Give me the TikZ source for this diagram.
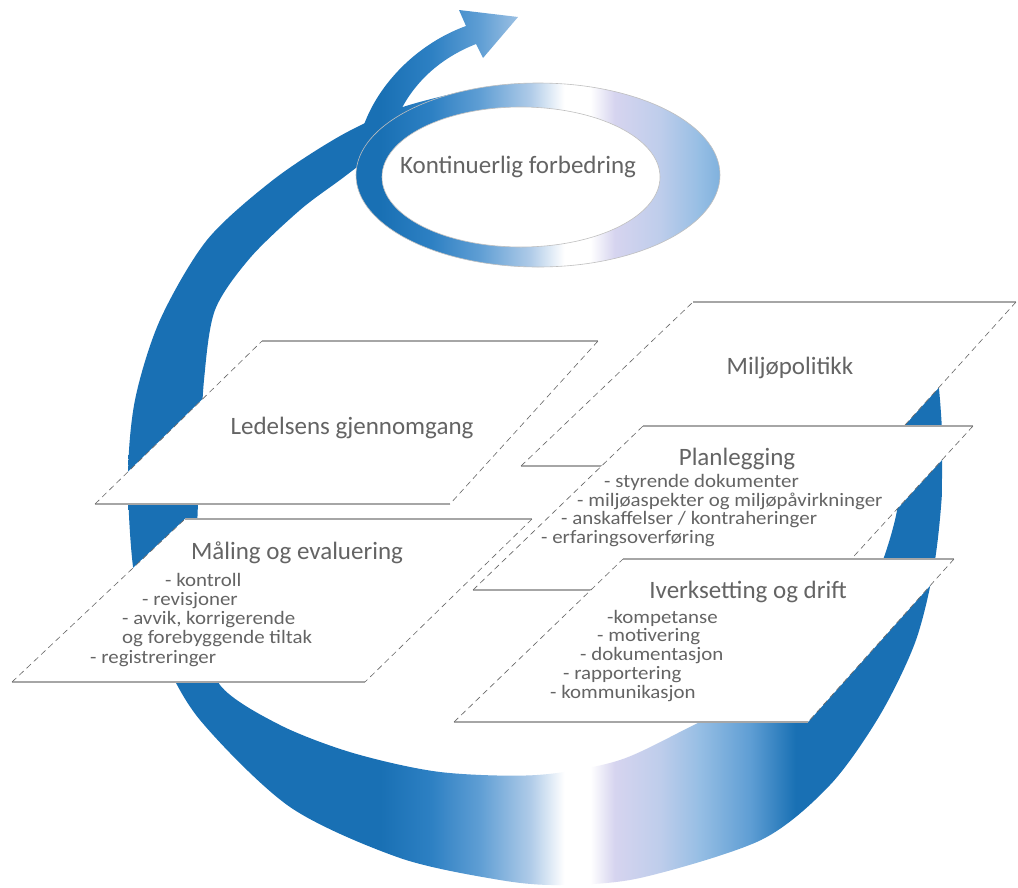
\documentclass[tikz,border=0pt]{standalone}
\usepackage{fontspec}
\setmainfont{Carlito}
\newfontfamily\itemfont{Carlito}[FakeStretch=1.1]

\definecolor{swirlblue}{RGB}{25,112,180}
\definecolor{swirlmid}{RGB}{45,128,195}
\definecolor{swirllight}{RGB}{95,158,212}
\definecolor{swirlpale}{RGB}{175,203,232}
\definecolor{swirllav}{RGB}{214,212,239}
\definecolor{swirlice}{RGB}{190,205,235}
\definecolor{swirlsky}{RGB}{150,190,228}
\definecolor{labelgray}{RGB}{100,100,100}

% left to right: blue, fading to white under the middle, back to blue
\pgfdeclarehorizontalshading{swirlshade}{100bp}{color(0bp)=(swirlblue); color(40.5bp)=(swirlblue);
  color(43.6bp)=(swirlmid); color(46.6bp)=(swirllight); color(49.7bp)=(swirlpale);
  color(51.8bp)=(white); color(53.4bp)=(white); color(54.9bp)=(swirllav);
  color(57.7bp)=(swirlice); color(60.1bp)=(swirlsky); color(63.2bp)=(swirllight);
  color(66bp)=(swirlblue); color(100bp)=(swirlblue)}

\newcommand{\swirlfill}{\shade[shading=swirlshade] (128,0) rectangle (942,887);}
\newcommand{\drawplane}[4]{%
  \fill[white] #1 -- #2 -- #3 -- #4 -- cycle;
  \draw[planeedge] #1 -- #2 #3 -- #4;
  \draw[planeslant] #2 -- #3 #4 -- #1;}

\tikzset{
  planeedge/.style={draw=black!35, line width=1.2pt},
  planeslant/.style={draw=black!60, line width=0.6pt, dash pattern=on 6pt off 4pt},
  head/.style={font=\fontsize{25}{28}\selectfont, text=labelgray, inner sep=0pt},
  item/.style={font=\itemfont\fontsize{19}{20}\selectfont, text=labelgray, inner sep=0pt, anchor=west},
}

\begin{document}
\begin{tikzpicture}[x=1pt, y=-1pt]
\useasboundingbox (0,0) rectangle (1018,887);
\fill[white] (0,0) rectangle (1018,887);

% big ribbon
\begin{scope}
\clip (460,92) -- plot[smooth] coordinates {(460,92) (400,108) (340,136) (273,180) (207,240)
  (160,320) (135,400) (128,480) (135,580) (160,650) (200,720) (290,807) (400,858) (500,880)
  (560,885) (640,878) (761,840) (830,785) (880,715) (916,640) (935,560) (943,470) (938,380) (925,330)}
  -- plot[smooth] coordinates {(895,330) (905,420) (895,520) (860,610) (790,680) (700,722)
  (620,760) (537,775) (440,772) (353,753) (280,725) (220,685) (200,620) (197,540) (200,460)
  (204,380) (215,310) (250,258) (300,210) (340,180) (370,158) (400,143)} -- cycle;
\swirlfill
\end{scope}

% loop
\begin{scope}
\clip (538,175) ellipse [x radius=182, y radius=92];
\swirlfill
\end{scope}

% arrow
\begin{scope}
\clip (357,172) .. controls (352,115) and (400,50) .. (466,26) -- (459,10) -- (518,17)
  -- (483,58) -- (476,44) .. controls (415,68) and (385,120) .. (385,178) -- cycle;
\swirlfill
\end{scope}

\fill[white] (521,177) ellipse [x radius=139, y radius=70];
\draw[black!25, line width=0.6pt] (538,175) ellipse [x radius=182, y radius=92];
\draw[black!25, line width=0.6pt] (521,177) ellipse [x radius=139, y radius=70];
\node[head] (kont) at (518,167) {Kontinuerlig forbedring};

% planes
\drawplane{(262,341)}{(598,341)}{(450,504)}{(95,504)}
\node[head] (ledelse) at (352,428) {Ledelsens gjennomgang};

\drawplane{(185,519)}{(532,519)}{(365,682)}{(12,682)}
\node[head] (maaling) at (297,553) {Måling og evaluering};
\node[item] (m1) at (165,580) {- kontroll};
\node[item] (m2) at (142,601) {- revisjoner};
\node[item] (m3) at (122,620) {- avvik, korrigerende};
\node[item] (m4) at (122,639) {og forebyggende tiltak};
\node[item] (m5) at (90,659) {- registreringer};

\drawplane{(693,302)}{(1016,302)}{(868,466)}{(521,466)}
\node[head] (politikk) at (790,368) {Miljøpolitikk};

\drawplane{(643,426)}{(973,426)}{(823,590)}{(473,590)}
\node[head] (plan) at (737,459) {Planlegging};
\node[item] (p1) at (604,482) {- styrende dokumenter};
\node[item] (p2) at (577,501) {- miljøaspekter og miljøpåvirkninger};
\node[item] (p3) at (561,520) {- anskaffelser / kontraheringer};
\node[item] (p4) at (541,539) {- erfaringsoverføring};

\drawplane{(623,559)}{(954,559)}{(808,722)}{(454,722)}
\node[head] (drift) at (748,592) {Iverksetting og drift};
\node[item] (d1) at (607,618) {-kompetanse};
\node[item] (d2) at (597,637) {- motivering};
\node[item] (d3) at (580,656) {- dokumentasjon};
\node[item] (d4) at (563,675) {- rapportering};
\node[item] (d5) at (550,694) {- kommunikasjon};
\end{tikzpicture}
\end{document}
